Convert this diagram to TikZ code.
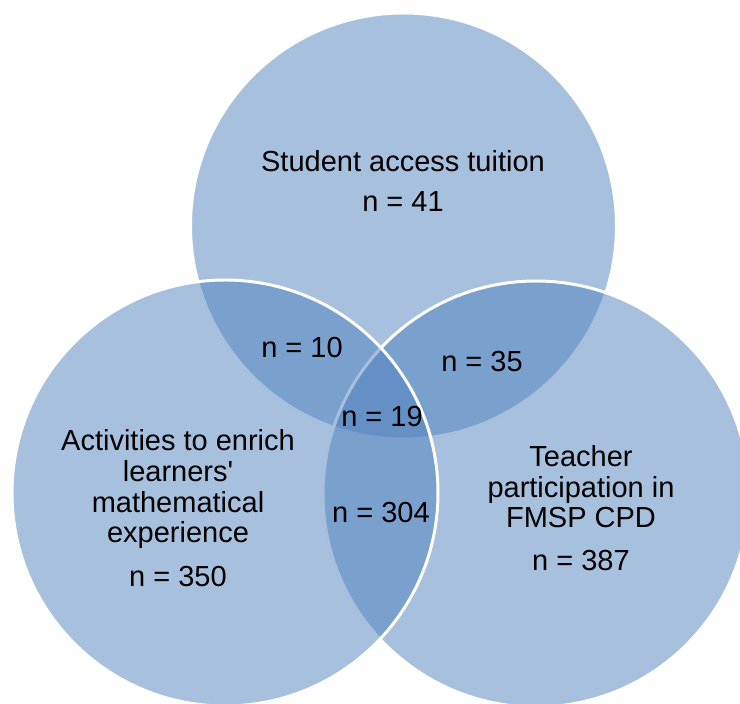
\documentclass[tikz,border=0pt]{standalone}
\usepackage{fontspec}
\setmainfont{Liberation Sans}
\definecolor{vennblue}{HTML}{4F81BD}
\tikzset{
  venncircle/.style={fill=vennblue, fill opacity=0.5, draw=white, line width=1.7pt},
  vennlabel/.style={align=center, anchor=base, inner sep=0pt, font=\fontsize{16.5}{17.4}\selectfont}
}

\begin{document}
\begin{tikzpicture}
	%%%%% START %%%%%
	
	\clip (0, 0) rectangle (14.8, 14.08);
	
	\draw[venncircle] (8.07, 9.56) circle (4.26);
	\draw[venncircle] (10.72, 4.2) circle (4.26);
	\draw[venncircle] (4.5, 4.22) circle (4.26);
	
	\node[vennlabel] (tuition) at (8.06, 9.84) {Student access tuition\\[5.4pt] n = 41};
	\node[vennlabel] (enrich) at (3.56, 2.34) {Activities to enrich\\learners\textquotesingle\\mathematical\\experience\\[7.8pt] n = 350};
	\node[vennlabel] (teacher) at (11.62, 2.66) {Teacher\\participation in\\FMSP CPD\\[7.1pt] n = 387};
	
	\node[vennlabel] (tuienr) at (6.04, 6.92) {n = 10};
	\node[vennlabel] (tuitea) at (9.64, 6.64) {n = 35};
	\node[vennlabel] (all) at (7.64, 5.54) {n = 19};
	\node[vennlabel] (enrtea) at (7.62, 3.62) {n = 304};
	
	%%%%% END %%%%%
\end{tikzpicture}
\end{document}
